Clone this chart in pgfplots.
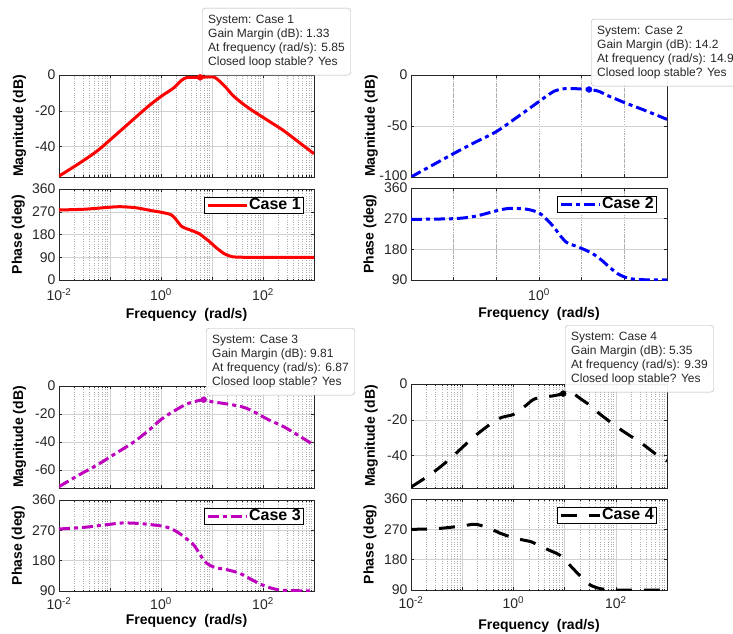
\documentclass[border=0pt]{standalone}
\usepackage{fontspec}
\setmainfont{Liberation Sans}
\usepackage{pgfplots}
\pgfplotsset{compat=1.18}
\definecolor{cmag}{RGB}{190,0,190}
\definecolor{axgray}{RGB}{38,38,38}

\pgfplotsset{
  every axis/.append style={
  scale only axis, xmode=log, log basis x=10,
  xmin=0.01, xmax=1000,
  xtick={0.01,0.1,1,10,100,1000},
  minor xtick={0.02,0.03,0.04,0.05,0.06,0.07,0.08,0.09,
               0.2,0.3,0.4,0.5,0.6,0.7,0.8,0.9,
               2,3,4,5,6,7,8,9,20,30,40,50,60,70,80,90,
               200,300,400,500,600,700,800,900},
  axis line style={axgray, line width=0.6pt},
  tick style={axgray, line width=0.5pt},
  tick align=inside,
  major tick length=3pt, minor tick length=1.5pt,
  grid=both,
  major grid style={black!18, line width=0.5pt},
  minor grid style={black!32, dotted, line width=0.45pt},
  tick label style={font=\fontsize{14}{14}\selectfont, text=axgray},
  /pgf/number format/assume math mode=true,
  label style={font=\fontsize{14}{14}\selectfont\bfseries, text=black},
  legend style={draw=black, line width=0.6pt, fill=white,
    font=\fontsize{16}{16}\selectfont\bfseries,
    inner xsep=2pt, inner ysep=0.5pt, at={(1,1)}, anchor=north east,
    xshift=-10pt, yshift=-8pt, nodes={inner sep=1pt}},
  },
}
\pgfplotsset{legend image code/.code={\draw[#1] (0pt,0pt) -- (39pt,0pt);}}

\tikzset{
 c1/.style={red, line width=3pt, smooth, tension=0.5},
 c2/.style={blue, line width=3pt, smooth, tension=0.5, dash pattern=on 11pt off 4pt on 4pt off 4pt},
 c3/.style={cmag, line width=3pt, smooth, tension=0.5, dash pattern=on 11pt off 4pt on 4pt off 4pt},
 c4/.style={black, line width=3pt, smooth, tension=0.5, dash pattern=on 16pt off 12pt},
 tip/.style={draw=black!30, fill=white, fill opacity=0.93, text opacity=1,
  rounded corners=3pt, align=left, font=\fontsize{12}{14}\selectfont,
  text=black!85, inner xsep=6pt, inner ysep=7pt, anchor=north west}
}

\begin{document}
\begin{tikzpicture}
\useasboundingbox (0pt,0pt) rectangle (733pt,633pt);

% ---------------- Case 1 ----------------
\begin{axis}[at={(59pt,558pt)}, anchor=north west, width=255pt, height=102pt,
  xticklabels={}, ylabel={Magnitude (dB)},
  ylabel style={at={(axis description cs:-0.155,0.5)}, anchor=center},
  ymin=-57, ymax=0, ytick={-40,-20,0}]
\addplot[c1] coordinates {
(0.01,-56.5) (0.02512,-49.3) (0.05623,-42.4) (0.1259,-33.8) (0.2818,-25)
(0.5623,-17.5) (1,-12) (1.778,-7.2) (2.512,-3) (3.162,-1.5) (3.981,-1.3)
(5.85,-1.33) (8.913,-1.0) (11.22,-1.3) (14.13,-3.5) (19.95,-7.8) (25.12,-11.2)
(39.81,-16) (63.10,-20) (125.9,-25.5) (251.2,-31) (501.2,-37.5) (1000,-44)};
\addplot[only marks, mark=*, mark size=3pt, red] coordinates {(5.85,-1.33)};
\end{axis}
\begin{axis}[at={(59pt,444pt)}, anchor=north west, width=255pt, height=91pt,
  ymin=0, ymax=360, ytick={0,90,180,270,360},
  xticklabels={10\textsuperscript{-2},,10\textsuperscript{0},,10\textsuperscript{2},},
  xticklabel style={yshift=-5pt},
  ylabel={Phase (deg)}, xlabel={Frequency \ (rad/s)},
  ylabel style={at={(axis description cs:-0.16,0.5)}, anchor=center},
  xlabel style={at={(axis description cs:0.5,-0.385)}, anchor=center}]
\addplot[c1] coordinates {
(0.01,277) (0.03162,280) (0.1,288) (0.1585,290) (0.3162,286) (0.631,275)
(1,268) (1.585,258) (1.995,238) (2.512,213) (3.162,203) (3.981,196)
(5.623,183) (7.079,168) (8.913,152) (12.59,125) (17.78,103) (25.12,92)
(39.81,90) (100,90) (1000,90)};
\addlegendentry{Case 1}
\end{axis}

% ---------------- Case 2 ----------------
\begin{axis}[at={(411pt,558pt)}, anchor=north west, width=256pt, height=102pt,
  xmin=0.001, xmax=1000, xtick={0.001,0.01,0.1,1,10,100,1000},
  minor xtick={0.001,0.01,0.1,1,10,100,1000},
  major x grid style={black!30, dotted, line width=0.5pt},
  xticklabels={}, ylabel={Magnitude (dB)},
  ylabel style={at={(axis description cs:-0.155,0.5)}, anchor=center},
  ymin=-100, ymax=0, ytick={-100,-50,0},
  yticklabels={\raisebox{3pt}{-100},-50,0}]
\addplot[c2] coordinates {
(0.001,-100) (0.01,-77) (0.03162,-66) (0.1,-55.5) (0.3162,-41) (1,-26)
(1.585,-20) (2.239,-16) (3.162,-14) (4.467,-13.3) (7.943,-13.5) (14.9,-14.2)
(25.12,-16) (39.81,-20) (63.1,-23.5) (100,-27) (316.2,-35) (1000,-43.5)};
\addplot[only marks, mark=*, mark size=3pt, blue] coordinates {(14.9,-14.2)};
\end{axis}
\begin{axis}[at={(411pt,445pt)}, anchor=north west, width=256pt, height=92pt,
  xmin=0.001, xmax=1000, xtick={0.001,0.01,0.1,1,10,100,1000},
  minor xtick={0.001,0.01,0.1,1,10,100,1000},
  major x grid style={black!30, dotted, line width=0.5pt},
  ymin=90, ymax=360, ytick={90,180,270,360},
  xticklabels={,,,10\textsuperscript{0},,,},
  xticklabel style={yshift=-5pt},
  ylabel={Phase (deg)}, xlabel={Frequency \ (rad/s)},
  ylabel style={at={(axis description cs:-0.16,0.5)}, anchor=center},
  xlabel style={at={(axis description cs:0.5,-0.37)}, anchor=center}]
\addplot[c2] coordinates {
(0.001,268) (0.01,270) (0.03162,277) (0.1,293) (0.1995,300) (0.5012,298)
(1,287) (1.585,265) (2.239,245) (3.162,220) (4.467,200) (7.079,190)
(11.22,180) (17.78,168) (28.18,150) (44.67,128) (70.79,108) (125.9,95)
(251.2,91) (1000,90)};
\addlegendentry{Case 2}
\end{axis}

% ---------------- Case 3 ----------------
\begin{axis}[at={(59pt,247pt)}, anchor=north west, width=255pt, height=102pt,
  xticklabels={}, ylabel={Magnitude (dB)},
  ylabel style={at={(axis description cs:-0.155,0.5)}, anchor=center},
  ymin=-73, ymax=0, ytick={-60,-40,-20,0}]
\addplot[c3] coordinates {
(0.01,-72) (0.02512,-63.5) (0.05623,-56.5) (0.1259,-48.5) (0.2818,-40.5)
(0.5623,-32) (1,-24) (1.778,-18) (3.162,-13) (5.012,-10.8) (6.87,-9.81)
(10,-11.3) (15.85,-12.3) (25.12,-13.5) (39.81,-15) (63.1,-18) (125.9,-24)
(251.2,-29) (501.2,-35.5) (1000,-42.3)};
\addplot[only marks, mark=*, mark size=3pt, cmag] coordinates {(6.87,-9.81)};
\end{axis}
\begin{axis}[at={(59pt,133pt)}, anchor=north west, width=255pt, height=91pt,
  ymin=90, ymax=360, ytick={90,180,270,360},
  xticklabels={10\textsuperscript{-2},,10\textsuperscript{0},,10\textsuperscript{2},},
  xticklabel style={yshift=-3pt},
  ylabel={Phase (deg)}, xlabel={Frequency \ (rad/s)},
  ylabel style={at={(axis description cs:-0.16,0.5)}, anchor=center},
  xlabel style={at={(axis description cs:0.5,-0.33)}, anchor=center}]
\addplot[c3] coordinates {
(0.01,274) (0.03162,279) (0.1,288) (0.1778,292) (0.3981,290) (1,283)
(1.585,275) (2.239,262) (3.162,245) (4.467,225) (6.31,190) (7.943,172)
(11.22,160) (19.95,153) (35.48,142) (63.1,122) (100,107) (158.5,97)
(251.2,92) (1000,90)};
\addlegendentry{Case 3}
\end{axis}

% ---------------- Case 4 ----------------
\begin{axis}[at={(411pt,249pt)}, anchor=north west, width=256pt, height=104pt,
  xticklabels={}, ylabel={Magnitude (dB)},
  ylabel style={at={(axis description cs:-0.155,0.5)}, anchor=center},
  ymin=-58, ymax=0, ytick={-40,-20,0}]
\addplot[c4] coordinates {
(0.01,-57.5) (0.02512,-50) (0.05623,-42) (0.1778,-29) (0.5012,-19.5) (1,-17)
(1.585,-13) (2.512,-8.5) (3.981,-7.3) (6.31,-6.5) (9.39,-5.35) (12.59,-4)
(19.95,-8) (31.62,-12) (50.12,-17) (125.9,-25.5) (316.2,-33) (631,-39.5)
(1000,-43)};
\addplot[only marks, mark=*, mark size=3pt, black] coordinates {(9.39,-5.35)};
\end{axis}
\begin{axis}[at={(411pt,134pt)}, anchor=north west, width=256pt, height=91pt,
  ymin=90, ymax=360, ytick={90,180,270,360},
  xticklabels={10\textsuperscript{-2},,10\textsuperscript{0},,10\textsuperscript{2},},
  xticklabel style={yshift=-3pt},
  ylabel={Phase (deg)}, xlabel={Frequency \ (rad/s)},
  ylabel style={at={(axis description cs:-0.16,0.5)}, anchor=center},
  xlabel style={at={(axis description cs:0.5,-0.395)}, anchor=center}]
\addplot[c4] coordinates {
(0.01,270) (0.03162,272) (0.1,280) (0.1778,285) (0.3162,275) (0.5623,258)
(1,245) (1.585,238) (2.239,233) (3.162,222) (5.012,208) (7.943,194)
(11.22,172) (15.85,148) (22.39,125) (31.62,105) (50.12,94) (100,90) (1000,90)};
\addlegendentry{Case 4}
\end{axis}

% ---------------- data tips ----------------
\node[tip] at (202pt,625pt) {System: Case 1\\Gain Margin (dB): 1.33\\At frequency (rad/s): 5.85\\Closed loop stable? Yes};
\node[tip] at (591pt,614pt) {System: Case 2\\Gain Margin (dB): 14.2\\At frequency (rad/s): 14.9\\Closed loop stable? Yes};
\node[tip] at (206pt,305pt) {System: Case 3\\Gain Margin (dB): 9.81\\At frequency (rad/s): 6.87\\Closed loop stable? Yes};
\node[tip] at (565pt,308pt) {System: Case 4\\Gain Margin (dB): 5.35\\At frequency (rad/s): 9.39\\Closed loop stable? Yes};
\end{tikzpicture}
\end{document}
